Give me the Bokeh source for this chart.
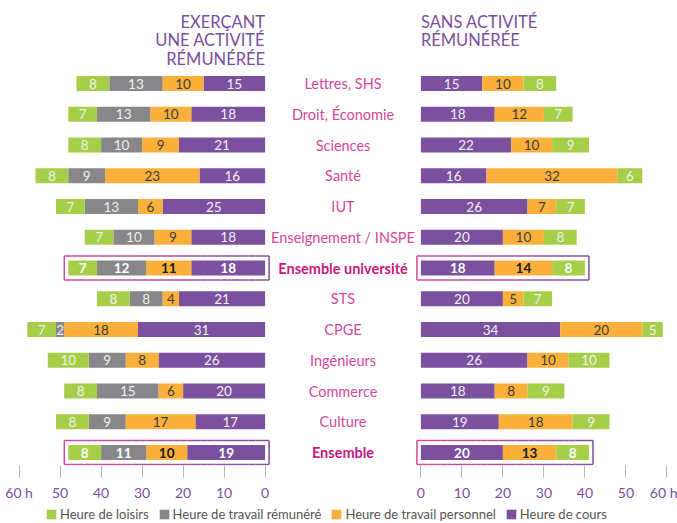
import numpy as np
from bokeh.plotting import figure
from bokeh.layouts import column
from bokeh.models import Range1d, FixedTicker, Legend, LegendItem, ColumnDataSource
from bokeh.core.properties import value
from bokeh.embed import file_html
from bokeh.resources import INLINE

# ---------------- data ----------------
categories = ["Lettres, SHS", "Droit, Économie", "Sciences", "Santé", "IUT",
              "Enseignement / INSPE", "Ensemble université", "STS", "CPGE",
              "Ingénieurs", "Commerce", "Culture", "Ensemble"]
# left panel: students with a paid activity
left_loisirs  = [8, 7, 8, 8, 7, 7, 7, 8, 7, 10, 8, 8, 8]
left_remunere = [13, 13, 10, 9, 13, 10, 12, 8, 2, 9, 15, 9, 11]
left_perso    = [10, 10, 9, 23, 6, 9, 11, 4, 18, 8, 6, 17, 10]
left_cours    = [15, 18, 21, 16, 25, 18, 18, 21, 31, 26, 20, 17, 19]
# right panel: students without a paid activity
right_cours   = [15, 18, 22, 16, 26, 20, 18, 20, 34, 26, 18, 19, 20]
right_perso   = [10, 12, 10, 32, 7, 10, 14, 5, 20, 10, 8, 18, 13]
right_loisirs = [8, 7, 9, 6, 7, 8, 8, 7, 5, 10, 9, 9, 8]

tick_values = [0, 10, 20, 30, 40, 50, 60]
tick_labels = ["0", "10", "20", "30", "40", "50", "60 h"]
series_labels = ["Heure de loisirs", "Heure de travail rémunéré",
                 "Heure de travail personnel", "Heure de cours"]
title_left = ["EXERÇANT", "UNE ACTIVITÉ", "RÉMUNÉRÉE"]
title_right = ["SANS ACTIVITÉ", "RÉMUNÉRÉE"]

# ---------------- style ----------------
FONT = "Lato"
C_LOIS, C_REM, C_PERSO, C_COURS = "#a6ce48", "#87878a", "#fbb03b", "#7b519f"
PURPLE = "#7b4fa0"
PINK = "#d6479b"
PINK_BOLD = "#c8187f"

FW, FH = 677, 465          # frame size
PX = 4.1                   # pixels per hour
ROW = 30.75                # pixels per row
CENTER = 342.5             # frame x of the centre line
G = 19                     # half gap (hours units)
ROW0 = 83                  # frame y of first row centre
BAR_H = 15 / ROW
BOX_PX, BOX_PY = 4 / PX, 12 / ROW

n = len(categories)
ys = np.arange(n)
bold = np.array([c.startswith("Ensemble") for c in categories])

p = figure(frame_width=FW, frame_height=FH, output_backend="svg",
           toolbar_location=None, title=None, y_axis_location=None,
           x_range=Range1d(-CENTER / PX, (FW - CENTER) / PX),
           y_range=Range1d((FH - ROW0) / ROW, -ROW0 / ROW),
           min_border=0, min_border_bottom=36, outline_line_color=None)
p.grid.visible = False
p.background_fill_color = "white"


def stack(series):
    cum = np.zeros(n)
    out = []
    for vals in series:
        v = np.array(vals, float)
        out.append((cum.copy(), cum + v, v))
        cum = cum + v
    return out, cum


def draw_text(xs, vals, dark):
    xs = np.asarray(xs)
    vals = np.asarray(vals)
    for mask, style, col in ((~bold, "normal", "#3c3c3c" if dark else "#f0f0f0"),
                             (bold, "bold", "#1a1a1a" if dark else "#ffffff")):
        p.text(x=xs[mask], y=ys[mask], text=[str(int(v)) for v in vals[mask]],
               text_align="center", text_baseline="middle",
               text_font=value(FONT), text_font_size="13.5px",
               text_font_style=style, text_color=col)


# left side, stacked outward from the zero line
left_series = [("cours", left_cours, C_COURS, False), ("perso", left_perso, C_PERSO, True),
               ("rem", left_remunere, C_REM, False), ("lois", left_loisirs, C_LOIS, False)]
ls, ltot = stack([s[1] for s in left_series])
for (key, vals, col, dark), (s0, s1, v) in zip(left_series, ls):
    p.hbar(y=ys, left=-G - s1, right=-G - s0, height=BAR_H,
           fill_color=col, line_color=None)
    draw_text(-G - (s0 + s1) / 2, v, dark)

right_series = [("cours", right_cours, C_COURS, False), ("perso", right_perso, C_PERSO, True),
                ("lois", right_loisirs, C_LOIS, False)]
rs, rtot = stack([s[1] for s in right_series])
for (key, vals, col, dark), (s0, s1, v) in zip(right_series, rs):
    p.hbar(y=ys, left=G + s0, right=G + s1, height=BAR_H,
           fill_color=col, line_color=None)
    draw_text(G + (s0 + s1) / 2, v, dark)


# highlight boxes with a pink -> purple gradient
def hex2rgb(h):
    return np.array([int(h[i:i + 2], 16) for i in (1, 3, 5)], float)


c0, c1 = hex2rgb(PINK), hex2rgb(PURPLE)
NSEG = 30
seg = dict(x0=[], x1=[], y0=[], y1=[], color=[])
for i in ys[bold]:
    for xa, xb in ((-G - ltot[i] - BOX_PX, -G + BOX_PX), (G - BOX_PX, G + rtot[i] + BOX_PX)):
        ya, yb = i - BOX_PY, i + BOX_PY
        edges = np.linspace(xa, xb, NSEG + 1)
        for k in range(NSEG):
            t = (k + 0.5) / NSEG
            rgb = c0 + (c1 - c0) * t
            colr = "#%02x%02x%02x" % tuple(int(round(c)) for c in rgb)
            for yy in (ya, yb):
                seg["x0"].append(edges[k]); seg["x1"].append(edges[k + 1])
                seg["y0"].append(yy); seg["y1"].append(yy); seg["color"].append(colr)
        seg["x0"] += [xa, xb]; seg["x1"] += [xa, xb]
        seg["y0"] += [ya, ya]; seg["y1"] += [yb, yb]
        seg["color"] += [PINK, PURPLE]
p.segment(x0="x0", x1="x1", y0="y0", y1="y1", line_color="color", line_width=1.5,
          source=ColumnDataSource(seg))

# category labels in the middle
for mask, style, col in ((~bold, "normal", PINK), (bold, "bold", PINK_BOLD)):
    p.text(x=np.zeros(mask.sum()), y=ys[mask], text=[c for c, m in zip(categories, mask) if m],
           text_align="center", text_baseline="middle", text_font=value(FONT),
           text_font_size="14.5px", text_font_style=style, text_color=col)

# panel titles
T_BASE = (21 - ROW0) / ROW
T_STEP = 18.5 / ROW
p.text(x=[-G] * len(title_left), y=[T_BASE + k * T_STEP for k in range(len(title_left))],
       text=title_left, text_align="right", text_baseline="alphabetic",
       text_font=value(FONT), text_font_size="16.5px", text_color=PURPLE)
p.text(x=[G] * len(title_right), y=[T_BASE + k * T_STEP for k in range(len(title_right))],
       text=title_right, text_align="left", text_baseline="alphabetic",
       text_font=value(FONT), text_font_size="16.5px", text_color=PURPLE)

# axis: two mirrored scales sharing one axis
ax = p.xaxis[0]
tick_pos = [-G - t for t in tick_values] + [G + t for t in tick_values]
ax.ticker = FixedTicker(ticks=tick_pos)
ax.major_label_overrides = {**{-G - t: l for t, l in zip(tick_values, tick_labels)},
                            **{G + t: l for t, l in zip(tick_values, tick_labels)}}
ax.axis_line_color = None
ax.major_tick_line_color = "#b5b5b5"
ax.major_tick_in = 0
ax.major_tick_out = 12
ax.minor_tick_line_color = None
ax.major_label_standoff = 6
ax.major_label_text_color = PURPLE
ax.major_label_text_font = FONT
ax.major_label_text_font_size = "14px"

# legend strip below the chart (swatch renderers sit outside its visible range)
lf = figure(width=FW, height=22, output_backend="svg", toolbar_location=None,
            x_axis_location=None, y_axis_location=None, title=None,
            x_range=Range1d(0, 1), y_range=Range1d(0, 1),
            min_border=0, outline_line_color=None)
lf.grid.visible = False
items = []
for lab, col in zip(series_labels, [C_LOIS, C_REM, C_PERSO, C_COURS]):
    r = lf.hbar(y=[5], left=[5], right=[6], height=1, fill_color=col, line_color=None)
    items.append(LegendItem(label=lab, renderers=[r]))
legend = Legend(items=items, orientation="horizontal", location=(45, 3),
                glyph_width=12, glyph_height=12, label_standoff=3, spacing=9,
                padding=0, margin=0, border_line_color=None, background_fill_alpha=0,
                label_text_font=FONT, label_text_font_size="13px",
                label_text_color="#555555", label_height=12)
lf.add_layout(legend)

layout = column(p, lf, spacing=0)
open("out.html", "w").write(file_html(layout, INLINE))
